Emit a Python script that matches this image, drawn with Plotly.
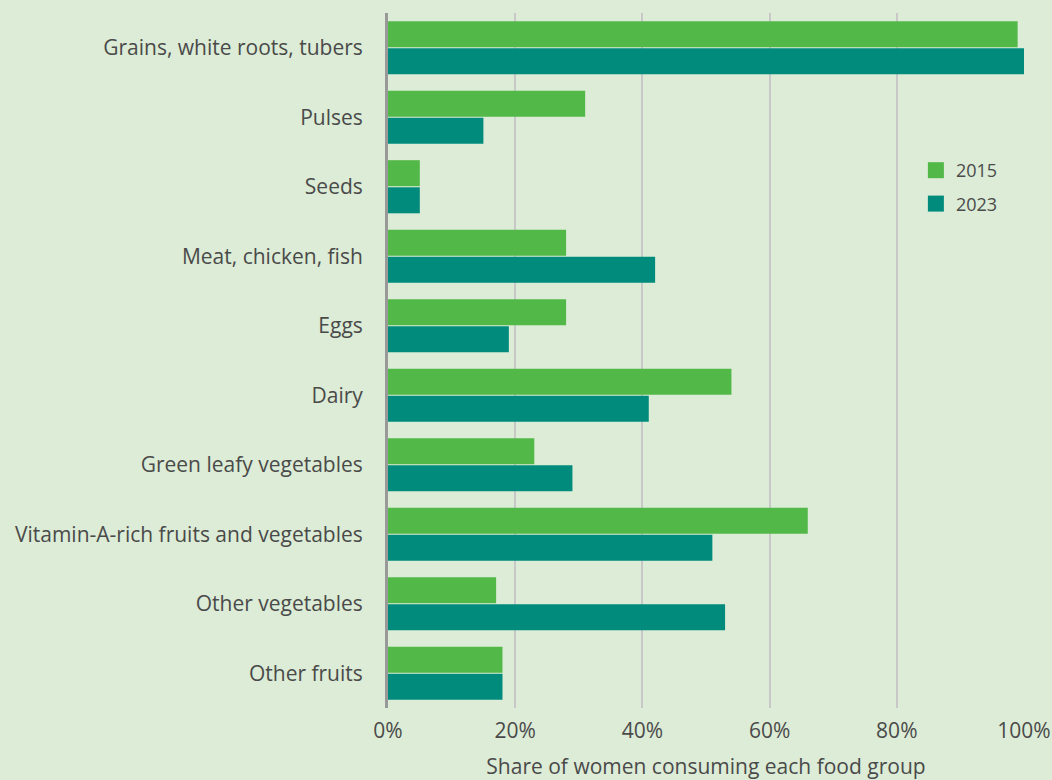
import plotly.graph_objects as go

categories = ["Grains, white roots, tubers", "Pulses", "Seeds", "Meat, chicken, fish", "Eggs",
              "Dairy", "Green leafy vegetables", "Vitamin-A-rich fruits and vegetables",
              "Other vegetables", "Other fruits"]
values_2015 = [99, 31, 5, 28, 28, 54, 23, 66, 17, 18]
values_2023 = [100, 15, 5, 42, 19, 41, 29, 51, 53, 18]
series_names = ["2015", "2023"]
colors = ["#52B848", "#008B7D"]
tick_vals = [0, 20, 40, 60, 80, 100]
tick_text = ["0%", "20%", "40%", "60%", "80%", "100%"]

BG = "#DCECD6"
TXT = "#4a4a4a"
FONT = "Open Sans, sans-serif"

fig = go.Figure()
for name, vals, col in zip(series_names, [values_2015, values_2023], colors):
    fig.add_trace(go.Bar(y=categories, x=vals, name=name, orientation="h", showlegend=False,
                         marker=dict(color=col, line=dict(width=0)), hoverinfo="x+y"))
for i, (name, col) in enumerate(zip(series_names, colors)):
    fig.add_trace(go.Scatter(x=[None], y=[None], mode="markers", name=name,
                             legendgroup="g%d" % i,
                             marker=dict(symbol="square", size=16, color=col)))

fig.update_layout(
    width=1052, height=780,
    paper_bgcolor=BG, plot_bgcolor=BG,
    barmode="group", bargap=0.22, bargroupgap=0.04,
    margin=dict(l=388, r=28, t=13, b=72, autoexpand=False),
    font=dict(family=FONT, size=21, color=TXT),
    legend=dict(x=0.83, y=0.8, xanchor="left", yanchor="top", bgcolor="rgba(0,0,0,0)",
                font=dict(size=18, color=TXT), itemwidth=30, tracegroupgap=7,
                itemsizing="trace"),
    xaxis=dict(range=[0, 100], tickvals=tick_vals, ticktext=tick_text,
               showgrid=True, gridcolor="#c8c8c8", gridwidth=2,
               zeroline=False, showline=False, ticks="", ticklabelstandoff=8,
               title=dict(text="Share of women consuming each food group", standoff=18,
                          font=dict(size=21, color=TXT)),
               tickfont=dict(size=21, color=TXT), fixedrange=True, automargin=False),
    yaxis=dict(autorange="reversed", showgrid=False, zeroline=False,
               showline=True, linecolor="#999999", linewidth=3,
               ticks="", ticklabelstandoff=18, tickfont=dict(size=21, color=TXT),
               fixedrange=True, automargin=False),
)

fig.write_html("out.html", config={"displayModeBar": False},
               post_script="document.body.style.margin='0';document.body.style.background='%s';" % BG)
